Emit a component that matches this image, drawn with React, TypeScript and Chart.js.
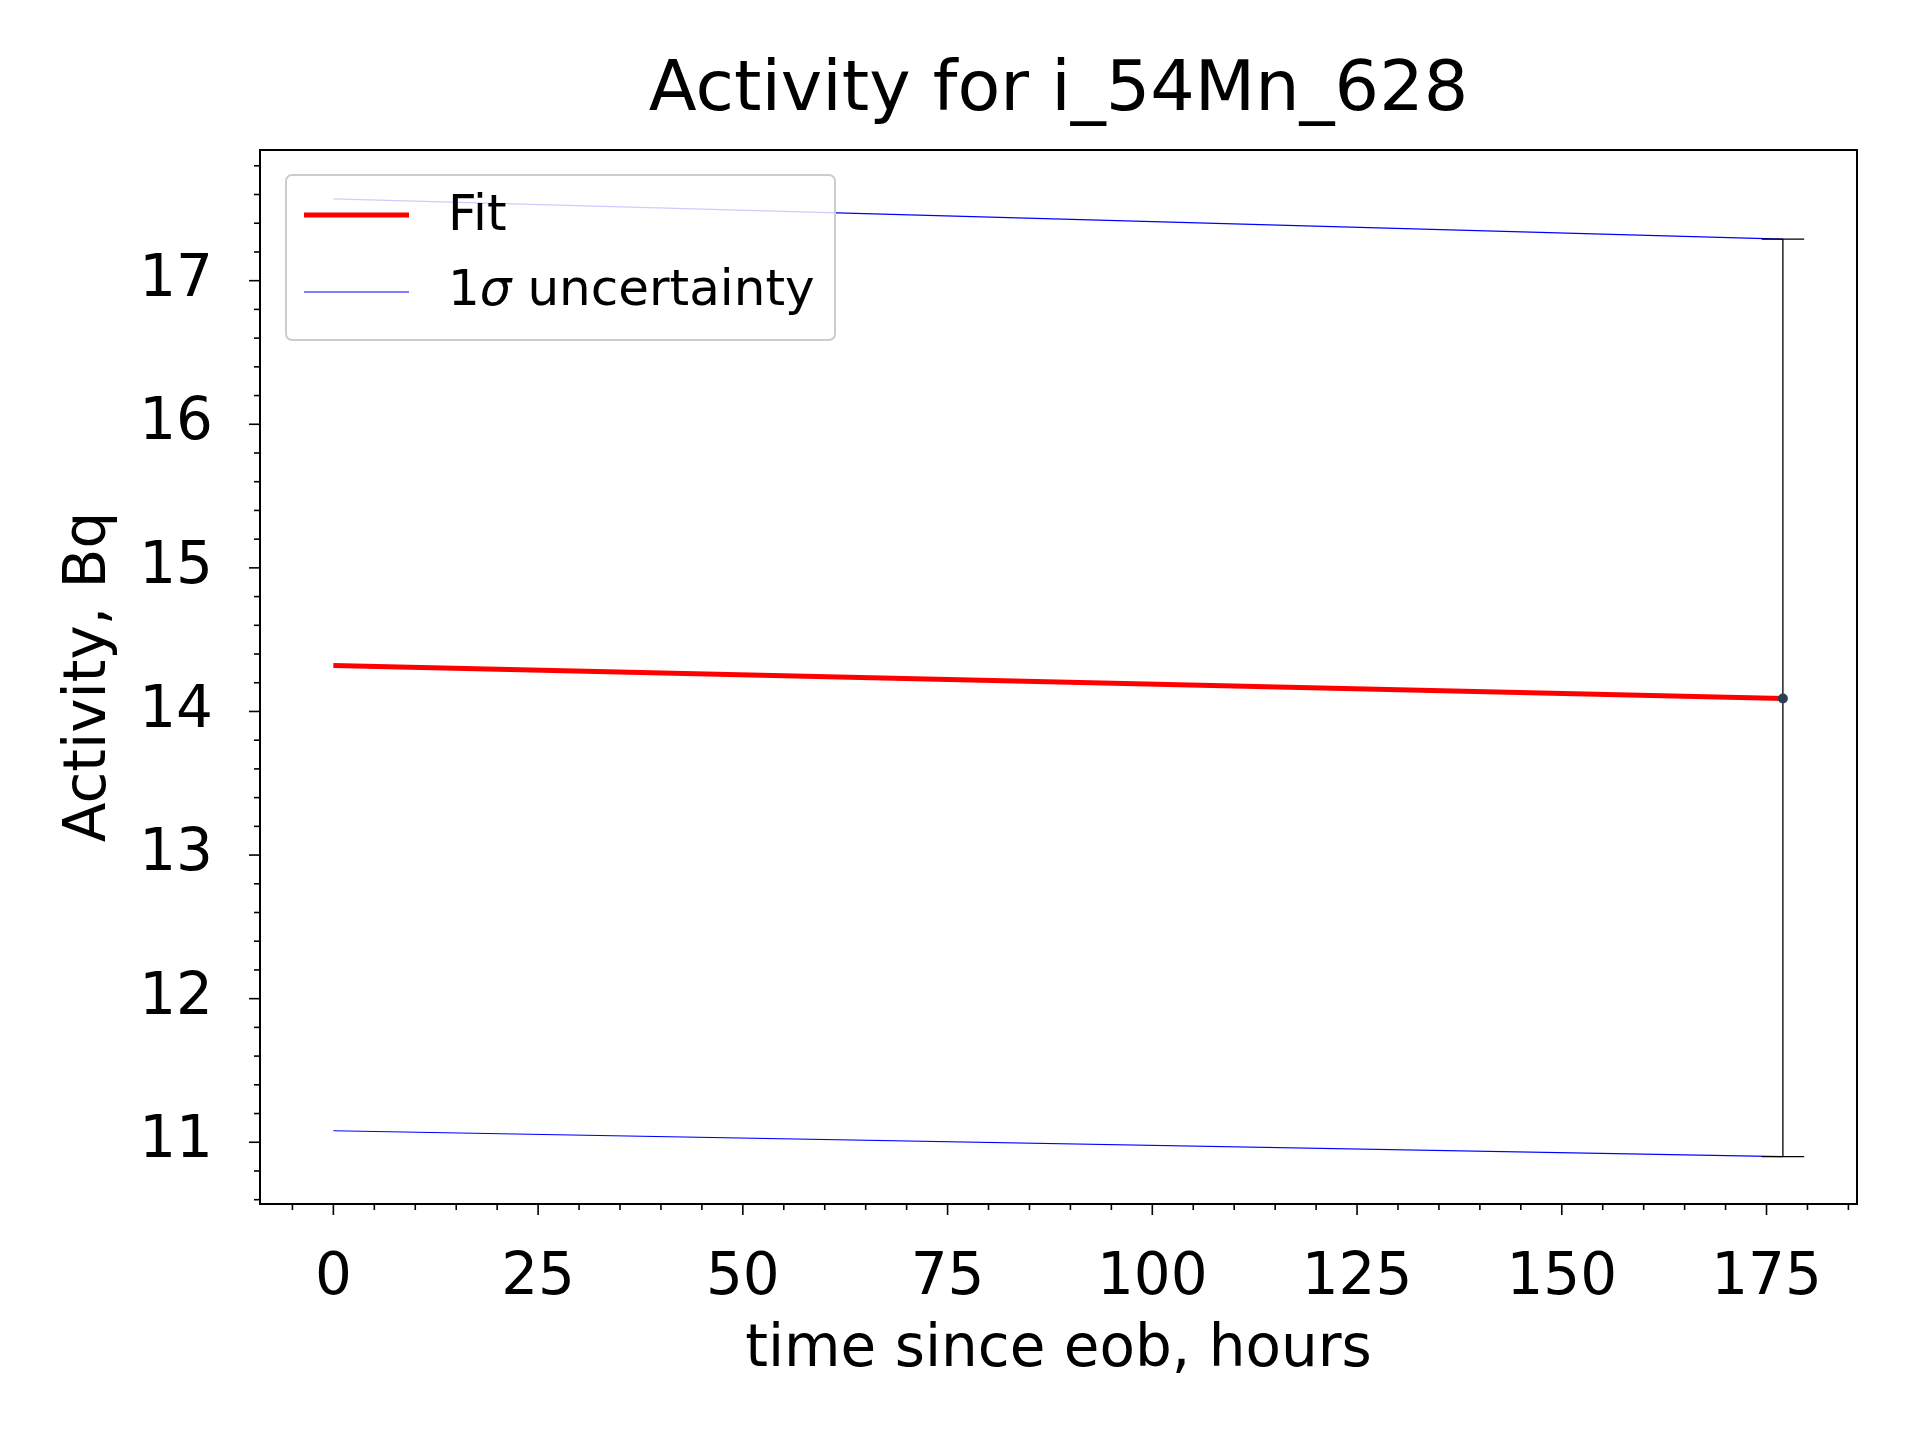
import { useEffect, useRef } from "react"
import { Chart, registerables } from "chart.js"

Chart.register(...registerables)

const hours = [0, 177]
const fit = [14.32, 14.09]
const upper = [17.57, 17.29]
const lower = [11.08, 10.9]
const pointX = 177
const pointY = 14.09
const errLow = 10.9
const errHigh = 17.29
const xTicks = [0, 25, 50, 75, 100, 125, 150, 175]
const yTicks = [11, 12, 13, 14, 15, 16, 17]

const FONT = "'DejaVu Sans', sans-serif"

const extras = {
  id: "extras",
  afterDatasetsDraw(chart: any) {
    const { ctx, chartArea: a, scales } = chart
    const x = scales.x
    const y = scales.y
    ctx.save()
    // frame
    ctx.strokeStyle = "#000"
    ctx.lineWidth = 2
    ctx.strokeRect(a.left, a.top, a.right - a.left, a.bottom - a.top)
    // ticks
    ctx.lineWidth = 1.6
    for (let v = -5; v <= 185; v += 5) {
      const px = x.getPixelForValue(v)
      const len = v % 25 === 0 ? 11 : 6
      ctx.beginPath(); ctx.moveTo(px, a.bottom); ctx.lineTo(px, a.bottom + len); ctx.stroke()
    }
    for (let i = 53; i <= 89; i++) {
      const v = i / 5
      const py = y.getPixelForValue(v)
      const len = i % 5 === 0 ? 11 : 6
      ctx.beginPath(); ctx.moveTo(a.left, py); ctx.lineTo(a.left - len, py); ctx.stroke()
    }
    // error bar
    const ex = x.getPixelForValue(pointX)
    const c1 = x.getPixelForValue(pointX - 2.6)
    const c2 = x.getPixelForValue(pointX + 2.6)
    const yl = y.getPixelForValue(errLow)
    const yh = y.getPixelForValue(errHigh)
    ctx.lineWidth = 1.3
    ctx.beginPath()
    ctx.moveTo(ex, yl); ctx.lineTo(ex, yh)
    ctx.moveTo(c1, yl); ctx.lineTo(c2, yl)
    ctx.moveTo(c1, yh); ctx.lineTo(c2, yh)
    ctx.stroke()
    ctx.fillStyle = "#2c3e50"
    ctx.beginPath(); ctx.arc(ex, y.getPixelForValue(pointY), 5, 0, Math.PI * 2); ctx.fill()
    // titles
    ctx.fillStyle = "#000"
    ctx.textAlign = "center"
    ctx.textBaseline = "middle"
    ctx.font = `70px ${FONT}`
    ctx.fillText("Activity for i_54Mn_628", (a.left + a.right) / 2, 92)
    ctx.font = `58px ${FONT}`
    ctx.fillText("time since eob, hours", (a.left + a.right) / 2, 1351)
    ctx.save()
    ctx.translate(90, (a.top + a.bottom) / 2)
    ctx.rotate(-Math.PI / 2)
    ctx.fillText("Activity, Bq", 0, 0)
    ctx.restore()
    ctx.textAlign = "left"
    // legend
    ctx.fillStyle = "rgba(255,255,255,0.8)"
    ctx.strokeStyle = "#ccc"
    ctx.lineWidth = 2
    ctx.beginPath()
    ctx.roundRect(286, 175, 549, 165, 6)
    ctx.fill(); ctx.stroke()
    ctx.strokeStyle = "red"; ctx.lineWidth = 5
    ctx.beginPath(); ctx.moveTo(304, 215); ctx.lineTo(409, 215); ctx.stroke()
    ctx.strokeStyle = "blue"; ctx.lineWidth = 1.2
    ctx.beginPath(); ctx.moveTo(304, 292); ctx.lineTo(409, 292); ctx.stroke()
    ctx.fillStyle = "#000"
    ctx.font = `50px ${FONT}`
    ctx.fillText("Fit", 448, 217)
    ctx.fillText("1", 448, 292)
    const w1 = ctx.measureText("1").width
    ctx.font = `italic 50px ${FONT}`
    ctx.fillText("σ", 448 + w1, 292)
    const w2 = ctx.measureText("σ").width
    ctx.font = `50px ${FONT}`
    ctx.fillText(" uncertainty", 448 + w1 + w2, 292)
    ctx.restore()
  },
}

export default function App() {
  const canvasRef = useRef<HTMLCanvasElement>(null)
  const chartRef = useRef<Chart | null>(null)

  useEffect(() => {
    document.body.style.margin = "0"
    if (!canvasRef.current) return
    if (chartRef.current) chartRef.current.destroy()
    const ctx = canvasRef.current.getContext("2d")
    if (!ctx) return

    const pts = (ys: number[]) => hours.map((h, i) => ({ x: h, y: ys[i] }))

    chartRef.current = new Chart(ctx, {
      type: "line",
      data: {
        datasets: [
          { data: pts(upper), borderColor: "blue", borderWidth: 1.2, pointRadius: 0 },
          { data: pts(lower), borderColor: "blue", borderWidth: 1.2, pointRadius: 0 },
          { data: pts(fit), borderColor: "red", borderWidth: 5, pointRadius: 0 },
        ],
      },
      options: {
        responsive: false,
        animation: false,
        layout: { padding: { top: 150, right: 63, left: 0, bottom: 0 } },
        plugins: {
          legend: { display: false },
          tooltip: { enabled: false },
        },
        scales: {
          x: {
            type: "linear",
            min: -8.96,
            max: 186.05,
            grid: { display: false, drawTicks: false },
            border: { display: false },
            afterBuildTicks: (s: any) => { s.ticks = xTicks.map((v) => ({ value: v })) },
            afterFit: (s: any) => { s.height = 236 },
            ticks: { color: "#000", font: { family: FONT, size: 58 }, padding: 40, maxRotation: 0 },
          },
          y: {
            type: "linear",
            min: 10.57,
            max: 17.91,
            grid: { display: false, drawTicks: false },
            border: { display: false },
            afterBuildTicks: (s: any) => { s.ticks = yTicks.map((v) => ({ value: v })) },
            afterFit: (s: any) => { s.width = 260 },
            ticks: { color: "#000", font: { family: FONT, size: 58 }, padding: 47 },
          },
        },
      },
      plugins: [extras],
    })

    return () => {
      if (chartRef.current) chartRef.current.destroy()
    }
  }, [])

  return (
    <div style={{ width: 1920, height: 1440, background: "#fff" }}>
      <canvas ref={canvasRef} width={1920} height={1440} />
    </div>
  )
}
